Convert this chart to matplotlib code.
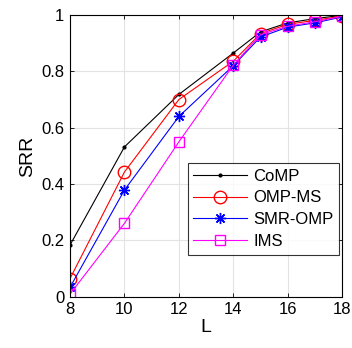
import matplotlib.pyplot as plt

plt.rcParams['font.family'] = ['Liberation Sans', 'DejaVu Sans']

L = [8, 10, 12, 14, 15, 16, 17, 18]
comp = [0.184, 0.532, 0.718, 0.865, 0.94, 0.972, 0.987, 0.999]
omp_ms = [0.065, 0.443, 0.70, 0.836, 0.934, 0.967, 0.981, 0.996]
smr_omp = [0.034, 0.379, 0.64, 0.82, 0.922, 0.957, 0.972, 0.993]
ims = [0.01, 0.261, 0.55, 0.822, 0.93, 0.96, 0.976, 0.995]

fig = plt.figure(figsize=(3.52, 3.48), dpi=100)
ax = fig.add_axes([0.199, 0.147, 0.773, 0.81])

ax.plot(L, comp, color='black', marker='.', markersize=4, lw=0.8, label='CoMP')
ax.plot(L, omp_ms, color='red', marker='o', markersize=9, mfc='none', lw=0.8, label='OMP-MS')
ax.plot(L, smr_omp, color='blue', marker=(8, 2, 0), markersize=8, mew=1.0, lw=0.8, label='SMR-OMP')
ax.plot(L, ims, color='magenta', marker='s', markersize=7, mfc='none', lw=0.8, label='IMS')

ax.set_xlim(8, 18)
ax.set_ylim(0, 1)
ax.set_xticks([8, 10, 12, 14, 16, 18])
ax.set_yticks([0, 0.2, 0.4, 0.6, 0.8, 1])
ax.set_yticklabels(['0', '0.2', '0.4', '0.6', '0.8', '1'])
ax.grid(True, color='#e3e3e3', lw=0.8)
ax.set_axisbelow(True)
ax.tick_params(direction='in', labelsize=12, top=True, right=True, length=3, width=0.6, pad=4)
for s in ax.spines.values():
    s.set_linewidth(0.8)
ax.set_xlabel('L', fontsize=14, labelpad=1)
ax.set_ylabel('SRR', fontsize=14, labelpad=4)

leg = ax.legend(loc='upper right', bbox_to_anchor=(0.99, 0.475), borderaxespad=0,
                fancybox=False, edgecolor='black', fontsize=12, handlelength=3.2,
                labelspacing=0.4, borderpad=0.35, handletextpad=0.4)
leg.get_frame().set_linewidth(0.8)

fig.savefig('out.png', dpi=100)
